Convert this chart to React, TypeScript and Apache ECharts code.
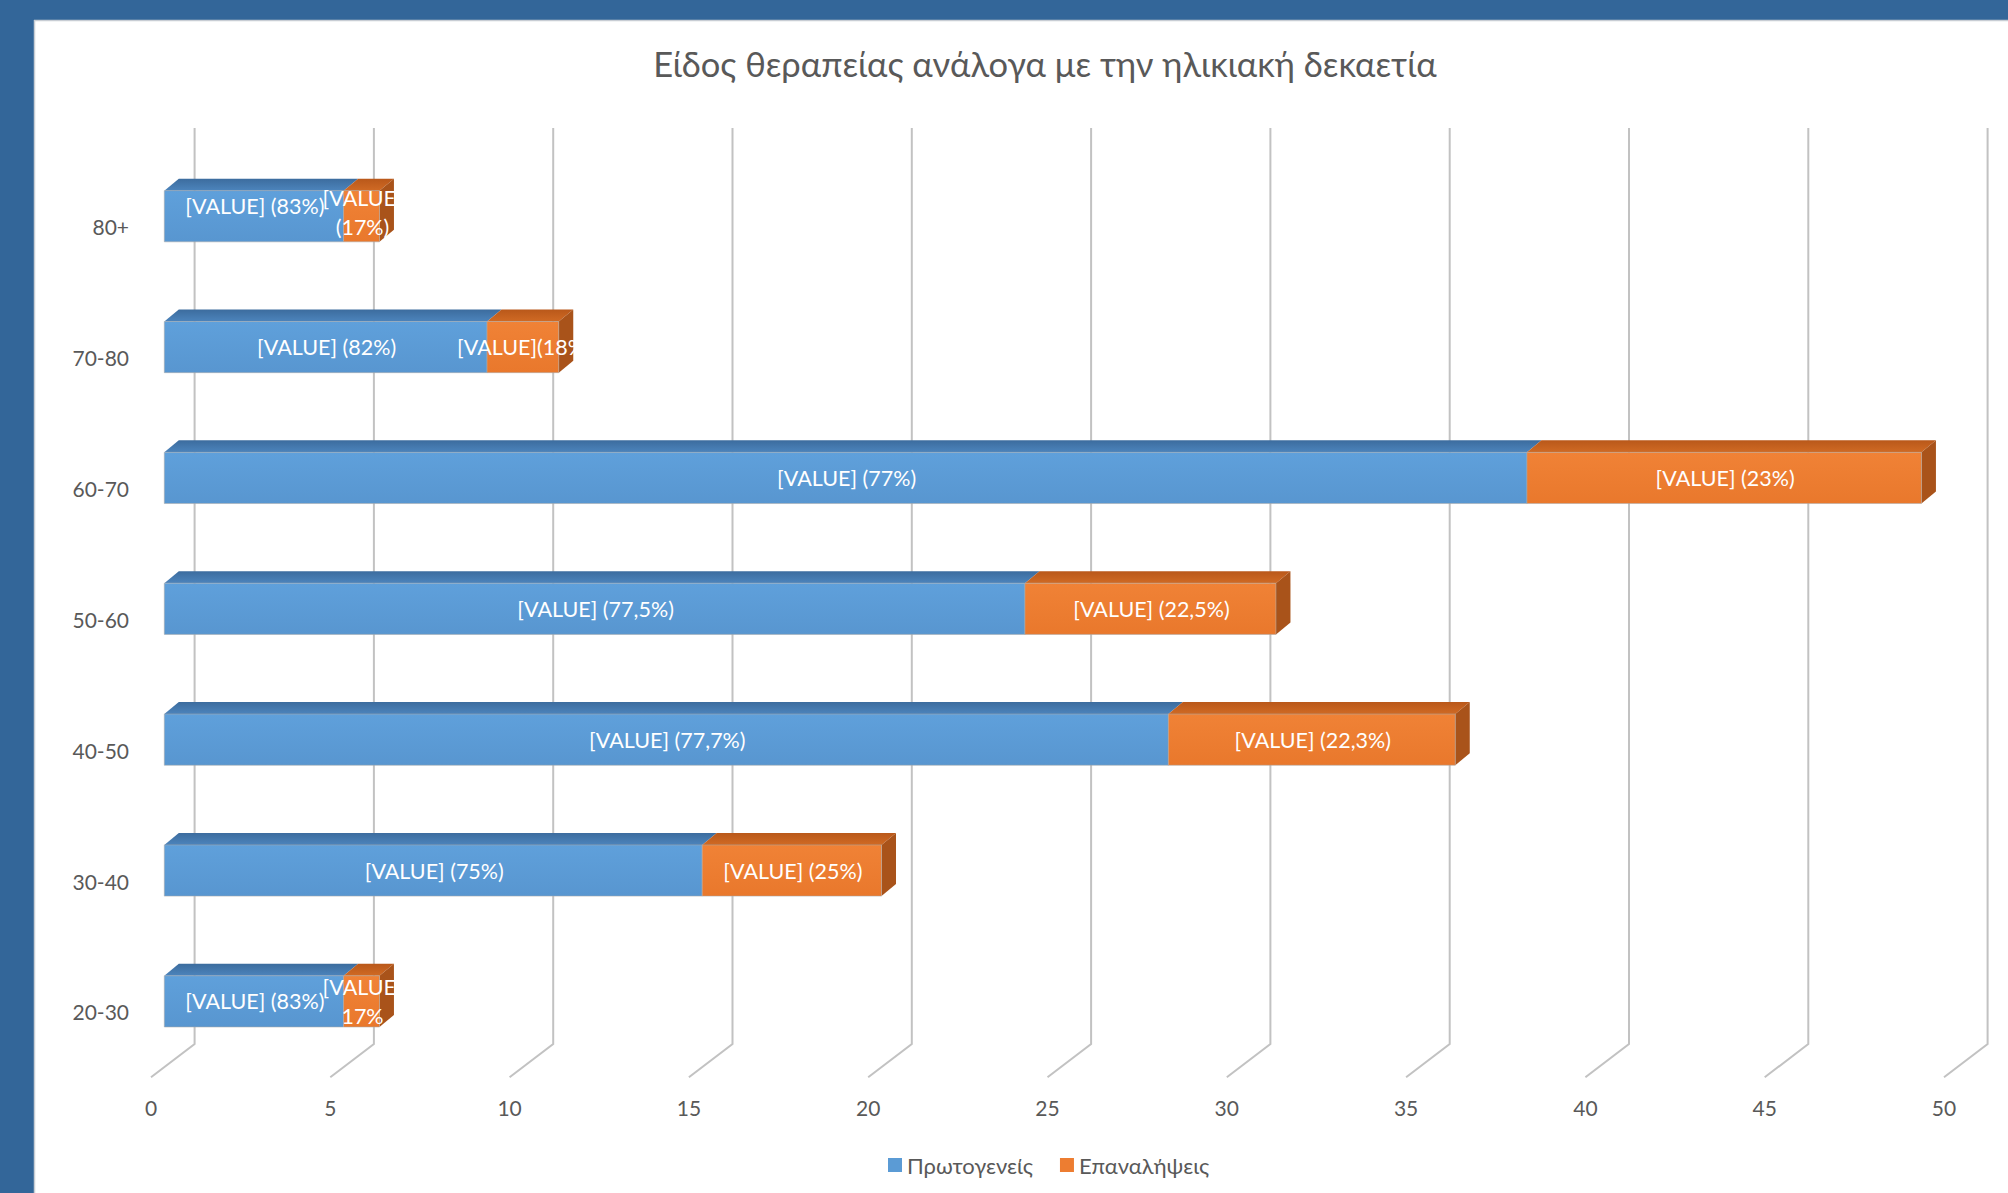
import React, { useEffect, useRef } from "react";
import * as echarts from "echarts";

// ---------- data ----------
const titleText = "Είδος θεραπείας ανάλογα με την ηλικιακή δεκαετία";
const seriesNames = ["Πρωτογενείς", "Επαναλήψεις"];
// bottom to top (ECharts category order)
const categories = ["20-30", "30-40", "40-50", "50-60", "60-70", "70-80", "80+"];
const primary = [5, 15, 28, 24, 38, 9, 5];
const repeats = [1, 5, 8, 7, 11, 2, 1];
const primaryLabels = [
  "[VALUE] (83%)",
  "[VALUE] (75%)",
  "[VALUE] (77,7%)",
  "[VALUE] (77,5%)",
  "[VALUE] (77%)",
  "[VALUE] (82%)",
  "[VALUE] (83%)",
];
const repeatLabels = [
  "[VALUE]\n17%",
  "[VALUE] (25%)",
  "[VALUE] (22,3%)",
  "[VALUE] (22,5%)",
  "[VALUE] (23%)",
  "[VALUE](18%)",
  "[VALUE]\n(17%)",
];
const xTicks = [0, 5, 10, 15, 20, 25, 30, 35, 40, 45, 50];

// ---------- styling ----------
const FONT = "Lato, 'Open Sans', 'Noto Sans', sans-serif";
const TEXT_COLOR = "#595959";
const FRAME_BLUE = "#336699";

// pseudo-3D geometry (pixels)
const FRONT_DX = 13.3;
const FRONT_DY = -10.5;
const DEPTH_DX = 14.5;
const DEPTH_DY = -12;
const HALF_H = 25.6;
const WALL_DX = 43.6;
const WALL_DY = -33.3;
// vertical nudges of data labels (Excel placed the top row's labels a bit higher)
const PRIMARY_LABEL_NUDGE: Record<number, number> = { 6: -10 };
const REPEAT_LABEL_NUDGE: Record<number, number> = { 6: -4 };

const bluePalette = {
  front: ["#5FA0DB", "#5896D0"],
  top: ["#3C6C9E", "#4C84BC"],
  side: "#3F6F9F",
};
const orangePalette = {
  front: ["#F08236", "#E9782C"],
  top: ["#B9581A", "#D06A24"],
  side: "#A9531A",
};

function lg(c0: string, c1: string) {
  return new echarts.graphic.LinearGradient(0, 0, 0, 1, [
    { offset: 0, color: c0 },
    { offset: 1, color: c1 },
  ]);
}

function barRenderer(labels: string[], pal: any, drawSide: boolean, nudge: Record<number, number>) {
  return (params: any, api: any) => {
    const i = params.dataIndex;
    const cat = api.value(0);
    const s = api.value(1);
    const e = api.value(2);
    const a = api.coord([s, cat]);
    const b = api.coord([e, cat]);
    const x0 = a[0] + FRONT_DX;
    const x1 = b[0] + FRONT_DX;
    const yc = a[1] + FRONT_DY;
    const yt = yc - HALF_H;
    const yb = yc + HALF_H;
    const children: any[] = [];
    children.push({
      type: "polygon",
      shape: {
        points: [
          [x0, yt],
          [x1, yt],
          [x1 + DEPTH_DX, yt + DEPTH_DY],
          [x0 + DEPTH_DX, yt + DEPTH_DY],
        ],
      },
      style: { fill: lg(pal.top[0], pal.top[1]) },
    });
    if (drawSide) {
      children.push({
        type: "polygon",
        shape: {
          points: [
            [x1, yt],
            [x1 + DEPTH_DX, yt + DEPTH_DY],
            [x1 + DEPTH_DX, yb + DEPTH_DY],
            [x1, yb],
          ],
        },
        style: { fill: pal.side },
      });
    }
    children.push({
      type: "rect",
      shape: { x: x0, y: yt, width: x1 - x0, height: yb - yt },
      style: {
        fill: lg(pal.front[0], pal.front[1]),
        stroke: "rgba(170,170,170,0.55)",
        lineWidth: 1,
      },
    });
    children.push({
      type: "group",
      clipPath: {
        type: "rect",
        shape: { x: 0, y: yt - 60, width: x1 + DEPTH_DX + 1, height: 2 * HALF_H + 120 },
      },
      children: [
        {
          type: "text",
          style: {
            x: (x0 + x1) / 2 + 1,
            y: yc + (nudge[cat] || 0),
            text: labels[i],
            fill: "#ffffff",
            fontFamily: FONT,
            fontSize: 21.5,
            lineHeight: 29,
            align: "center",
            verticalAlign: "middle",
          },
        },
      ],
    });
    return { type: "group", children };
  };
}

function gridRenderer(params: any, api: any) {
  const x = api.coord([api.value(0), 0])[0];
  const cs = params.coordSys;
  const top = cs.y;
  const bottom = cs.y + cs.height;
  return {
    type: "polyline",
    shape: {
      points: [
        [x + WALL_DX, top + WALL_DY],
        [x + WALL_DX, bottom + WALL_DY],
        [x, bottom],
      ],
    },
    style: { stroke: "#C2C2C2", lineWidth: 2, fill: "none" },
  };
}

export default function App() {
  const ref = useRef<HTMLDivElement>(null);
  useEffect(() => {
    if (!ref.current) return;
    const chart = echarts.init(ref.current, undefined, { renderer: "svg" });
    const primaryData = categories.map((_, i) => [i, 0, primary[i]]);
    const repeatData = categories.map((_, i) => [i, primary[i], primary[i] + repeats[i]]);
    chart.setOption({
      animation: false,
      backgroundColor: "#ffffff",
      title: {
        text: titleText,
        left: 1045,
        top: 46,
        textAlign: "center",
        padding: 0,
        textStyle: { fontFamily: FONT, fontSize: 34.5, fontWeight: "normal", color: TEXT_COLOR },
      },
      legend: {
        data: seriesNames,
        left: 888,
        top: 1154,
        icon: "rect",
        itemWidth: 14,
        itemHeight: 14,
        itemGap: 27,
        padding: 0,
        textStyle: { fontFamily: FONT, fontSize: 22, color: TEXT_COLOR },
      },
      graphic: [
        { type: "rect", shape: { x: 0, y: 0, width: 2008, height: 20 }, style: { fill: FRAME_BLUE }, silent: true },
        { type: "rect", shape: { x: 0, y: 0, width: 34, height: 1193 }, style: { fill: FRAME_BLUE }, silent: true },
        { type: "line", shape: { x1: 34, y1: 20.5, x2: 2008, y2: 20.5 }, style: { stroke: "#C8CDD4", lineWidth: 1.5 }, silent: true },
        { type: "line", shape: { x1: 34.5, y1: 20, x2: 34.5, y2: 1193 }, style: { stroke: "#C8CDD4", lineWidth: 1.5 }, silent: true },
      ],
      grid: { left: 151, right: 64, top: 161.3, bottom: 115.7, containLabel: false },
      xAxis: {
        type: "value",
        min: 0,
        max: 50,
        interval: 5,
        axisLine: { show: false },
        axisTick: { show: false },
        splitLine: { show: false },
        axisLabel: { fontFamily: FONT, fontSize: 21, color: TEXT_COLOR, margin: 20 },
      },
      yAxis: {
        type: "category",
        data: categories,
        axisLine: { show: false },
        axisTick: { show: false },
        splitLine: { show: false },
        axisLabel: { fontFamily: FONT, fontSize: 21, color: TEXT_COLOR, margin: 22 },
      },
      series: [
        {
          type: "custom",
          name: "grid",
          silent: true,
          clip: false,
          data: xTicks.map((v) => [v, 0]),
          encode: { x: 0, y: 1 },
          renderItem: gridRenderer,
          z: 1,
        },
        {
          type: "custom",
          name: seriesNames[0],
          clip: false,
          itemStyle: { color: "#5B9BD5" },
          data: primaryData,
          encode: { x: [1, 2], y: 0 },
          renderItem: barRenderer(primaryLabels, bluePalette, false, PRIMARY_LABEL_NUDGE),
          z: 2,
        },
        {
          type: "custom",
          name: seriesNames[1],
          clip: false,
          itemStyle: { color: "#ED7D31" },
          data: repeatData,
          encode: { x: [1, 2], y: 0 },
          renderItem: barRenderer(repeatLabels, orangePalette, true, REPEAT_LABEL_NUDGE),
          z: 3,
        },
      ],
    });
    return () => chart.dispose();
  }, []);
  return (
    <div
      ref={ref}
      style={{ position: "fixed", left: 0, top: 0, width: 2008, height: 1193 }}
    />
  );
}
